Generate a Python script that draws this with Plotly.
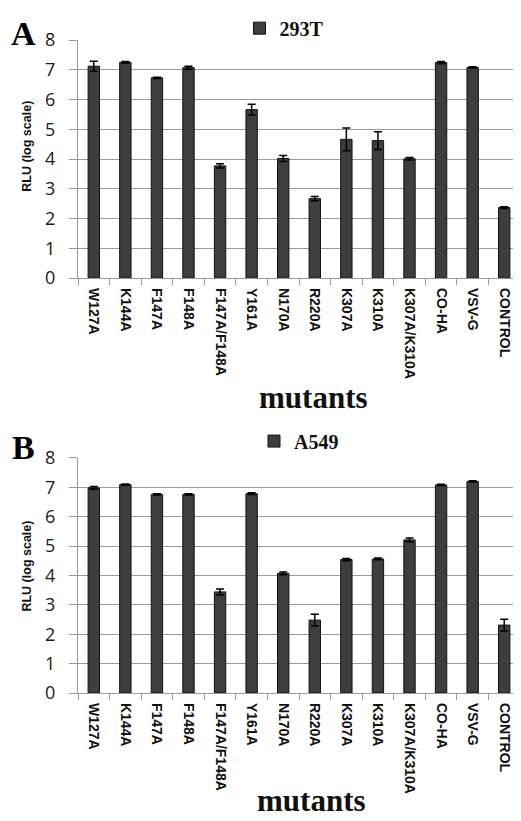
import plotly.graph_objects as go

categories = ["W127A", "K144A", "F147A", "F148A", "F147A/F148A", "Y161A", "N170A",
              "R220A", "K307A", "K310A", "K307A/K310A", "CO-HA", "VSV-G", "CONTROL"]
tick_labels = ["W127A", "K144A", "F147A", "F148A", "F147A/F148A", "Y161A", "N170A",
               "R220A", "K307A", "K310A", "K307A/K310A", "CO-HA", "VSV-G", "CONTROL"]

vals_293t = [7.12, 7.25, 6.73, 7.07, 3.77, 5.66, 4.02, 2.67, 4.66, 4.62, 4.01, 7.24, 7.08, 2.37]
err_293t = [0.17, 0.03, 0.02, 0.05, 0.07, 0.18, 0.10, 0.07, 0.38, 0.30, 0.04, 0.04, 0.02, 0.03]

vals_a549 = [6.98, 7.09, 6.76, 6.76, 3.44, 6.78, 4.07, 2.48, 4.54, 4.56, 5.21, 7.08, 7.20, 2.31]
err_a549 = [0.05, 0.02, 0.02, 0.02, 0.10, 0.03, 0.05, 0.20, 0.04, 0.03, 0.06, 0.02, 0.02, 0.20]

y_ticks = [0, 1, 2, 3, 4, 5, 6, 7, 8]

# page body has an 8px margin: figure is drawn from window pixel (8, 8)
OFF = 8
W, H = 521 - OFF, 821 - OFF
ML, MR, MT, MB = 78 - OFF, 1, 32 - OFF, H - (693 - OFF)
PW, PH = W - ML - MR, H - MT - MB


def fx(x):
    return (x - OFF - ML) / PW


def fy(y):
    return (H - MB - (y - OFF)) / PH


BAR_COLOR = "#3e3e3e"
GRID = "#9a9a9a"

fig = go.Figure()
fig.add_trace(go.Bar(
    x=categories, y=vals_293t, name="293T", xaxis="x", yaxis="y",
    marker=dict(color=BAR_COLOR, line=dict(color="#111111", width=1)),
    error_y=dict(type="data", array=err_293t, color="#000000", thickness=1.5, width=4),
    width=0.36, legend="legend",
))
fig.add_trace(go.Bar(
    x=categories, y=vals_a549, name="A549", xaxis="x2", yaxis="y2",
    marker=dict(color=BAR_COLOR, line=dict(color="#111111", width=1)),
    error_y=dict(type="data", array=err_a549, color="#000000", thickness=1.5, width=4),
    width=0.36, legend="legend2",
))

xaxis_common = dict(
    type="category", tickmode="array", tickvals=categories, ticktext=tick_labels,
    tickangle=90, tickfont=dict(family="Liberation Sans", size=14, color="#111111", weight="bold"),
    showline=True, linecolor=GRID, linewidth=1.2, ticks="outside", tickson="boundaries",
    ticklen=6, tickcolor=GRID, tickwidth=1.2, showgrid=False, domain=[0, 1],
    range=[-0.5, 13.5], ticklabelstandoff=6,
)
yaxis_common = dict(
    range=[0, 8], tickvals=y_ticks, showgrid=True, gridcolor=GRID, gridwidth=1.2,
    showline=True, linecolor=GRID, linewidth=1.2, ticks="outside", ticklen=8,
    tickcolor=GRID, tickwidth=1.2, ticklabelstandoff=10,
    tickfont=dict(family="Open Sans", size=18, color="#1a1a1a"), zeroline=False,
)

legend_font = dict(family="Liberation Serif", size=20, color="#111111", weight="bold")
fig.update_layout(
    width=W, height=H, margin=dict(l=ML, r=MR, t=MT, b=MB),
    paper_bgcolor="white", plot_bgcolor="white",
    xaxis=dict(**xaxis_common, anchor="y"),
    yaxis=dict(**yaxis_common, domain=[fy(273), 1], anchor="x"),
    xaxis2=dict(**xaxis_common, anchor="y2"),
    yaxis2=dict(**yaxis_common, domain=[0, fy(455)], anchor="x2"),
    legend=dict(x=fx(284), y=fy(20), xanchor="center", yanchor="middle",
                bgcolor="rgba(0,0,0,0)", itemwidth=30, font=legend_font),
    legend2=dict(x=fx(299), y=fy(438), xanchor="center", yanchor="middle",
                 bgcolor="rgba(0,0,0,0)", itemwidth=30, font=legend_font),
    showlegend=True,
)

ann = []
for letter, cy in (("A", 25), ("B", 444)):
    ann.append(dict(text=letter, x=fx(23), y=fy(cy), xref="paper", yref="paper",
                    xanchor="center", yanchor="middle", showarrow=False,
                    font=dict(family="Liberation Serif", size=34, color="#000000", weight="bold")))
for cy in (140, 565):
    ann.append(dict(text="RLU (log scale)", x=fx(27), y=fy(cy), xref="paper", yref="paper",
                    xanchor="center", yanchor="middle", showarrow=False, textangle=-90,
                    font=dict(family="Liberation Sans", size=12.5, color="#111111", weight="bold")))
ann.append(dict(text="mutants", x=fx(313), y=fy(394), xref="paper", yref="paper",
                xanchor="center", yanchor="middle", showarrow=False,
                font=dict(family="Liberation Serif", size=31, color="#111111", weight="bold")))
ann.append(dict(text="mutants", x=fx(311), y=fy(821), xref="paper", yref="paper",
                xanchor="center", yanchor="bottom", showarrow=False, borderpad=0,
                font=dict(family="Liberation Serif", size=31, color="#111111", weight="bold")))
fig.update_layout(annotations=ann)

fig.write_html("out.html")
